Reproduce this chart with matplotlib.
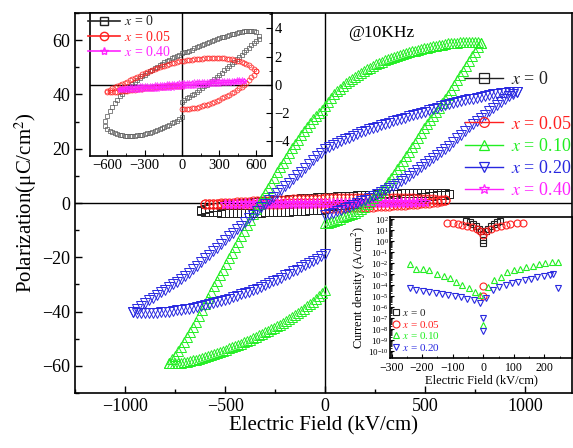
import numpy as np
import matplotlib
matplotlib.use("Agg")
import matplotlib.pyplot as plt
from matplotlib.lines import Line2D
from matplotlib.ticker import MultipleLocator, LogLocator, NullFormatter

plt.rcParams['font.family'] = ['Liberation Serif', 'DejaVu Serif']
plt.rcParams['mathtext.fontset'] = 'stix'

# ---- P-E loops (kV/cm, uC/cm^2); each loop = rise 0->Emax, fall Emax->-Emax, return -Emax->0
# x = 0.10 (Emax 780, step 15)
g_emax, g_step = 780, 15
g_rise = [-7.5, -7.3, -7.0, -6.6, -6.2, -5.8, -5.3, -4.9, -4.4, -4.0,
          -3.5, -2.9, -2.2, -1.3, -0.3, 0.8, 1.8, 2.8, 3.8, 4.8,
          6.0, 7.6, 9.2, 10.8, 12.4, 14.0, 15.6, 17.2, 18.8, 20.5,
          22.2, 24.0, 25.8, 27.5, 29.2, 30.7, 32.2, 33.7, 35.2, 36.7,
          38.2, 39.9, 41.6, 43.4, 45.2, 47.0, 48.8, 50.6, 52.4, 54.1,
          55.8, 57.4, 59.0]
g_fall = [59.0, 59.2, 59.3, 59.4, 59.4, 59.4, 59.3, 59.2, 59.1, 59.0,
          58.9, 58.8, 58.6, 58.4, 58.2, 58.0, 57.8, 57.6, 57.3, 57.1,
          56.8, 56.5, 56.2, 55.9, 55.6, 55.3, 55.0, 54.7, 54.3, 53.9,
          53.5, 53.1, 52.6, 52.1, 51.6, 51.1, 50.5, 49.9, 49.3, 48.7,
          48.0, 47.3, 46.6, 45.8, 45.0, 44.1, 43.2, 42.2, 41.2, 40.0,
          38.7, 37.2, 35.7, 34.4, 33.2, 32.0, 30.8, 29.4, 28.0, 26.5,
          25.0, 23.4, 21.8, 20.1, 18.4, 16.7, 14.9, 13.1, 11.3, 9.4,
          7.5, 5.6, 3.7, 1.8, -0.2, -2.2, -4.2, -6.2, -8.2, -10.2,
          -12.2, -14.2, -16.3, -18.3, -20.4, -22.4, -24.5, -26.5, -28.6, -30.7,
          -32.8, -35.0, -37.2, -39.4, -41.6, -43.7, -45.7, -47.6, -49.5, -51.3,
          -53.0, -54.6, -56.2, -57.6, -59.0]
g_ret = [-59.0, -59.0, -59.0, -58.9, -58.8, -58.7, -58.5, -58.3, -58.0, -57.7,
         -57.4, -57.1, -56.8, -56.5, -56.1, -55.7, -55.3, -54.9, -54.5, -54.1,
         -53.6, -53.2, -52.7, -52.3, -51.8, -51.3, -50.8, -50.3, -49.8, -49.3,
         -48.8, -48.3, -47.7, -47.2, -46.6, -46.0, -45.4, -44.8, -44.1, -43.4,
         -42.7, -42.0, -41.3, -40.6, -39.8, -39.0, -38.1, -37.2, -36.3, -35.3,
         -34.3, -33.3, -32.2]

# x = 0.20 (Emax 960, step 20)
b_emax, b_step = 960, 20
b_rise = [-4.4, -4.1, -3.7, -3.1, -2.5, -1.9, -1.3, -0.6, 0.0, 0.6,
          1.3, 1.9, 2.6, 3.2, 3.9, 4.7, 5.5, 6.3, 7.1, 8.0,
          9.0, 10.0, 11.1, 12.2, 13.3, 14.4, 15.5, 16.5, 17.6, 18.7,
          19.9, 21.2, 22.6, 23.9, 25.2, 26.6, 27.9, 29.0, 30.2, 31.4,
          32.6, 33.8, 35.0, 36.2, 37.3, 38.3, 39.3, 40.2, 41.0]
b_fall = [41.0, 40.9, 40.8, 40.7, 40.5, 40.3, 40.0, 39.7, 39.4, 39.1,
          38.8, 38.5, 38.2, 37.9, 37.5, 37.2, 36.8, 36.4, 36.0, 35.6,
          35.1, 34.7, 34.2, 33.7, 33.2, 32.8, 32.3, 31.9, 31.4, 31.0,
          30.5, 30.1, 29.6, 29.1, 28.6, 28.1, 27.6, 27.1, 26.5, 26.0,
          25.4, 24.8, 24.1, 23.5, 22.8, 22.1, 21.4, 20.6, 19.8, 18.5,
          17.2, 15.8, 14.4, 13.0, 11.6, 10.2, 8.8, 7.5, 6.2, 4.9,
          3.6, 2.4, 1.1, -0.3, -1.6, -3.0, -4.3, -5.6, -6.9, -8.3,
          -9.6, -11.0, -12.3, -13.7, -15.0, -16.4, -17.7, -19.1, -20.4, -21.8,
          -23.1, -24.4, -25.6, -26.8, -27.9, -29.0, -30.0, -31.0, -31.9, -32.9,
          -33.9, -34.9, -35.9, -36.9, -37.9, -39.0, -40.0]
b_ret = [-40.2, -40.4, -40.5, -40.5, -40.5, -40.5, -40.4, -40.3, -40.2, -40.0,
         -39.8, -39.6, -39.4, -39.2, -38.9, -38.6, -38.3, -38.0, -37.6, -37.3,
         -36.9, -36.5, -36.1, -35.7, -35.2, -34.7, -34.2, -33.7, -33.2, -32.7,
         -32.1, -31.5, -30.9, -30.3, -29.6, -28.9, -28.2, -27.5, -26.7, -26.0,
         -25.2, -24.5, -23.7, -22.9, -22.1, -21.3, -20.5, -19.7, -18.9]

# x = 0 (Emax 620, step 20)
k_emax, k_step = 620, 20
k_rise = [-1.2, -1.09, -0.97, -0.86, -0.74, -0.63, -0.5, -0.37, -0.24, -0.12,
          0.01, 0.15, 0.29, 0.43, 0.57, 0.72, 0.87, 1.02, 1.18, 1.34,
          1.5, 1.65, 1.81, 1.97, 2.14, 2.3, 2.46, 2.63, 2.8, 2.97,
          3.13, 3.28]
k_fall = [3.45, 3.75, 3.83, 3.85, 3.84, 3.83, 3.8, 3.76, 3.72, 3.68,
          3.64, 3.59, 3.54, 3.49, 3.43, 3.38, 3.33, 3.27, 3.21, 3.14,
          3.07, 2.99, 2.91, 2.83, 2.75, 2.66, 2.58, 2.5, 2.43, 2.36,
          2.3, 2.24, 2.15, 2.06, 1.97, 1.87, 1.78, 1.69, 1.6, 1.5,
          1.39, 1.29, 1.18, 1.07, 0.96, 0.84, 0.72, 0.6, 0.47, 0.33,
          0.19, 0.05, -0.1, -0.27, -0.45, -0.63, -0.83, -1.05, -1.29, -1.55,
          -1.85, -2.2, -2.6]
k_ret = [-2.95, -3.12, -3.26, -3.35, -3.44, -3.51, -3.56, -3.59, -3.61, -3.63,
         -3.63, -3.63, -3.62, -3.6, -3.57, -3.53, -3.48, -3.44, -3.39, -3.33,
         -3.27, -3.21, -3.14, -3.07, -2.99, -2.91, -2.83, -2.74, -2.65, -2.55,
         -2.44, -2.32]

# x = 0.05 (Emax 600, step 20)
r_emax, r_step = 600, 20
r_rise = [-1.72, -1.71, -1.7, -1.69, -1.67, -1.65, -1.62, -1.58, -1.53, -1.47,
          -1.41, -1.35, -1.28, -1.21, -1.13, -1.06, -0.97, -0.88, -0.79, -0.69,
          -0.59, -0.49, -0.38, -0.26, -0.13, 0.01, 0.16, 0.33, 0.52, 0.72,
          0.95]
r_fall = [0.95, 1.12, 1.26, 1.38, 1.47, 1.54, 1.6, 1.66, 1.71, 1.76,
          1.8, 1.83, 1.86, 1.87, 1.88, 1.89, 1.89, 1.89, 1.89, 1.88,
          1.88, 1.87, 1.86, 1.84, 1.82, 1.8, 1.78, 1.76, 1.74, 1.72,
          1.69, 1.66, 1.62, 1.58, 1.53, 1.48, 1.43, 1.37, 1.31, 1.25,
          1.18, 1.11, 1.04, 0.97, 0.89, 0.82, 0.74, 0.66, 0.57, 0.48,
          0.4, 0.31, 0.22, 0.14, 0.05, -0.03, -0.11, -0.19, -0.26, -0.34,
          -0.45]
r_ret = [-0.52, -0.52, -0.51, -0.5, -0.49, -0.47, -0.45, -0.43, -0.41, -0.38,
         -0.36, -0.34, -0.31, -0.29, -0.27, -0.25, -0.23, -0.21, -0.2, -0.18,
         -0.16, -0.15, -0.14, -0.13, -0.12, -0.11, -0.1, -0.09, -0.08, -0.08,
         -0.07]

# x = 0.40 (Emax 500, step 20)
m_emax, m_step = 500, 20
m_rise = [-0.12, -0.11, -0.09, -0.08, -0.07, -0.06, -0.04, -0.03, -0.01, 0.0,
          0.01, 0.03, 0.04, 0.06, 0.07, 0.08, 0.1, 0.11, 0.13, 0.14,
          0.15, 0.17, 0.18, 0.2, 0.22, 0.24]
m_fall = [0.3, 0.31, 0.31, 0.31, 0.3, 0.3, 0.3, 0.29, 0.28, 0.28,
          0.27, 0.26, 0.25, 0.24, 0.23, 0.23, 0.22, 0.21, 0.19, 0.18,
          0.17, 0.16, 0.15, 0.13, 0.12, 0.11, 0.1, 0.09, 0.07, 0.06,
          0.05, 0.04, 0.02, 0.01, -0.01, -0.02, -0.03, -0.05, -0.06, -0.08,
          -0.09, -0.11, -0.12, -0.14, -0.15, -0.17, -0.19, -0.21, -0.23, -0.26,
          -0.3]
m_ret = [-0.34, -0.35, -0.36, -0.36, -0.35, -0.35, -0.35, -0.34, -0.34, -0.33,
         -0.32, -0.31, -0.3, -0.29, -0.28, -0.27, -0.26, -0.25, -0.23, -0.22,
         -0.21, -0.2, -0.18, -0.17, -0.16, -0.14]

# ---- leakage current (E in kV/cm, log10 J in A/cm^2)
jk_E = [-55, -45, -35, -25, -15, -8, 0, 8, 15, 25, 35, 45, 55, 0, 0]
jk_log = [1.85, 1.75, 1.6, 1.4, 1.15, 0.9, 0.65, 0.9, 1.15, 1.4, 1.6, 1.75, 1.85, 0.15, -0.2]
jr_E = [-120, -99, -83, -68, -52, -37, -21, -10, 0, 10, 26, 42, 57, 73, 88, 109, 130, 0, 0]
jr_log = [1.69, 1.64, 1.55, 1.49, 1.40, 1.29, 1.11, 0.90, 0.60, 0.90, 1.11, 1.29, 1.40, 1.49,
          1.58, 1.64, 1.69, -4.1, -5.0]
jg_E = [-240, -220, -198, -177, -151, -130, -109, -88, -68, -47, -26, -10,
        16, 36, 57, 78, 99, 120, 141, 161, 182, 203, 224, 245, 0]
jg_log = [-2.06, -2.50, -2.56, -2.65, -2.94, -3.18, -3.38, -3.68, -3.98, -4.27, -4.57, -4.87,
          -4.12, -3.54, -3.24, -2.79, -2.65, -2.50, -2.35, -2.21, -2.06, -2.0, -1.91, -1.85, -7.6]
jb_E = [-240, -219, -198, -179, -156, -135, -115, -94, -73, -52, -31, -12,
        10, 31, 52, 73, 94, 114, 135, 156, 177, 198, 219, 229, 0, 0, 245]
jb_log = [-4.27, -4.42, -4.51, -4.63, -4.72, -4.80, -4.92, -5.01, -5.10, -5.22, -5.31, -5.60,
          -5.16, -4.42, -4.12, -3.98, -3.83, -3.68, -3.54, -3.39, -3.24, -3.15, -3.03, -2.94,
          -6.93, -8.11, -4.27]

labels = ["$x$ = 0", "$x$ = 0.05", "$x$ = 0.10", "$x$ = 0.20", "$x$ = 0.40"]
BLACK, RED, GREEN, BLUE, MAG = "#222222", "#ff2020", "#22ee22", "#2828e0", "#ff22ff"
GRAY = "#555555"


def loop(emax, step, rise, fall, ret):
    e = np.concatenate([np.arange(0, emax + step / 2, step),
                        np.arange(emax, -emax - step / 2, -step),
                        np.arange(-emax, step / 2, step)])
    p = np.array(rise + fall + ret)
    assert len(e) == len(p), (emax, len(e), len(rise), len(fall), len(ret))
    return e, p


fig = plt.figure(figsize=(5.73, 4.48), dpi=100)
ax = fig.add_axes([0.1309, 0.1228, 0.868, 0.848])

ax.axhline(0, color="black", lw=1.0, zorder=1)
ax.axvline(0, color="black", lw=1.0, zorder=1)

series = [
    (loop(k_emax, k_step, k_rise, k_fall, k_ret), BLACK, "s", 5.5),
    (loop(r_emax, r_step, r_rise, r_fall, r_ret), RED, "o", 6.5),
    (loop(m_emax, m_step, m_rise, m_fall, m_ret), MAG, "*", 7.5),
    (loop(g_emax, g_step, g_rise, g_fall, g_ret), GREEN, "^", 7.5),
    (loop(b_emax, b_step, b_rise, b_fall, b_ret), BLUE, "v", 7.5),
]
for (e, p), c, mk, ms in series:
    ax.plot(e, p, ls="none", marker=mk, ms=ms, mfc="none", mec=c, mew=0.7, zorder=3)

ax.set_xlim(-1250, 1235)
ax.set_ylim(-70, 70)
ax.xaxis.set_major_locator(MultipleLocator(500))
ax.xaxis.set_minor_locator(MultipleLocator(250))
ax.yaxis.set_major_locator(MultipleLocator(20))
ax.yaxis.set_minor_locator(MultipleLocator(10))
ax.tick_params(which="both", direction="in", top=False, right=False, labelsize=13)
ax.tick_params(which="major", length=5, width=1)
ax.tick_params(which="minor", length=3, width=1)
for s in ax.spines.values():
    s.set_linewidth(1.2)
ax.set_xlabel("Electric Field (kV/cm)", fontsize=15, labelpad=1)
ax.set_ylabel("Polarization(μC/cm$^2$)", fontsize=15, labelpad=2)
ax.text(115, 62.6, "@10KHz", fontsize=12.5, va="center", ha="left")

# main legend (x = 0 separated by an empty row)
cols = [BLACK, RED, GREEN, BLUE, MAG]
marks = ["s", "o", "^", "v", "*"]
hs = [Line2D([], [], color=c, marker=m, ms=7, mfc="none", mec=c, lw=1.0, mew=0.9)
      for c, m in zip(cols, marks)]
blank = Line2D([], [], color="none")
leg = ax.legend([hs[0], blank] + hs[1:], [labels[0], ""] + labels[1:], loc="upper left",
                bbox_to_anchor=(0.785, 0.847), frameon=False, fontsize=13, handlelength=2.1,
                handletextpad=0.4, labelspacing=0.29, borderpad=0, borderaxespad=0)
for t, c in zip(leg.get_texts(), [BLACK, "white"] + cols[1:]):
    t.set_color(c)

# inset: small loops
ins = fig.add_axes([0.157, 0.652, 0.3176, 0.319])
ins.set_facecolor("white")
ins.axhline(0, color="black", lw=1.0, zorder=1)
ins.axvline(0, color="black", lw=1.0, zorder=1)
for (e, p), c, mk, ms in [series[0], series[1], series[2]]:
    ins.plot(e, p, ls="none", marker=mk, ms=ms * 0.55, mfc="none", mec=GRAY if c == BLACK else c,
             mew=0.5, zorder=3)
ins.set_xlim(-740, 725)
ins.set_ylim(-5.05, 5.1)
ins.xaxis.set_major_locator(MultipleLocator(300))
ins.xaxis.set_minor_locator(MultipleLocator(150))
ins.yaxis.set_major_locator(MultipleLocator(2))
ins.yaxis.set_minor_locator(MultipleLocator(1))
ins.yaxis.tick_right()
ins.tick_params(which="both", direction="in", labelsize=10.5, pad=2)
ins.tick_params(which="major", length=4)
ins.tick_params(which="minor", length=2)
for s in ins.spines.values():
    s.set_linewidth(1.2)
ih = [Line2D([], [], color=c, marker=m, ms=6, mfc="none", mec=c, lw=1.2)
      for c, m in zip([BLACK, RED, MAG], ["s", "o", "*"])]
il = ins.legend(ih, [labels[0], labels[1], labels[4]], loc="upper left", bbox_to_anchor=(-0.02, 1.0),
                frameon=False, fontsize=10, handlelength=2.3, handletextpad=0.3,
                labelspacing=0.1, borderpad=0.1, borderaxespad=0)
for t, c in zip(il.get_texts(), [BLACK, RED, MAG]):
    t.set_color(c)

# inset: leakage current
jx = fig.add_axes([0.6806, 0.2009, 0.3176, 0.3147])
jx.set_facecolor("white")
jx.set_yscale("log")
for E, lg, c, mk, lab in [(jk_E, jk_log, BLACK, "s", labels[0]), (jr_E, jr_log, RED, "o", labels[1]),
                          (jg_E, jg_log, GREEN, "^", labels[2]), (jb_E, jb_log, BLUE, "v", labels[3])]:
    jx.plot(E, 10.0 ** np.array(lg), ls="none", marker=mk, ms=5, mfc="none", mec=c, mew=0.8,
            label=lab)
jx.set_xlim(-305, 290)
jx.set_ylim(10 ** -10.6, 10 ** 2.2)
jx.xaxis.set_major_locator(MultipleLocator(100))
jx.xaxis.set_minor_locator(MultipleLocator(50))
jx.yaxis.set_major_locator(LogLocator(base=10, numticks=30))
jx.yaxis.set_minor_locator(LogLocator(base=10, subs=np.arange(2, 10), numticks=30))
jx.yaxis.set_minor_formatter(NullFormatter())
jx.tick_params(which="both", direction="in")
jx.tick_params(axis="x", labelsize=8.5, pad=3)
jx.tick_params(axis="y", labelsize=6.5, pad=1)
jx.tick_params(which="major", length=3)
jx.tick_params(which="minor", length=1.5)
for s in jx.spines.values():
    s.set_linewidth(1.2)
jx.set_xlabel("Electric Field (kV/cm)", fontsize=9, labelpad=0)
jx.set_ylabel("Current density (A/cm$^2$)", fontsize=9, labelpad=0)
jl = jx.legend(loc="lower left", bbox_to_anchor=(0.0, 0.03), frameon=False, fontsize=8,
               handlelength=0.8, handletextpad=0.2, labelspacing=0.05, borderpad=0.1,
               borderaxespad=0)
for t, c in zip(jl.get_texts(), [BLACK, RED, GREEN, BLUE]):
    t.set_color(c)

fig.savefig("out.png", dpi=100)
